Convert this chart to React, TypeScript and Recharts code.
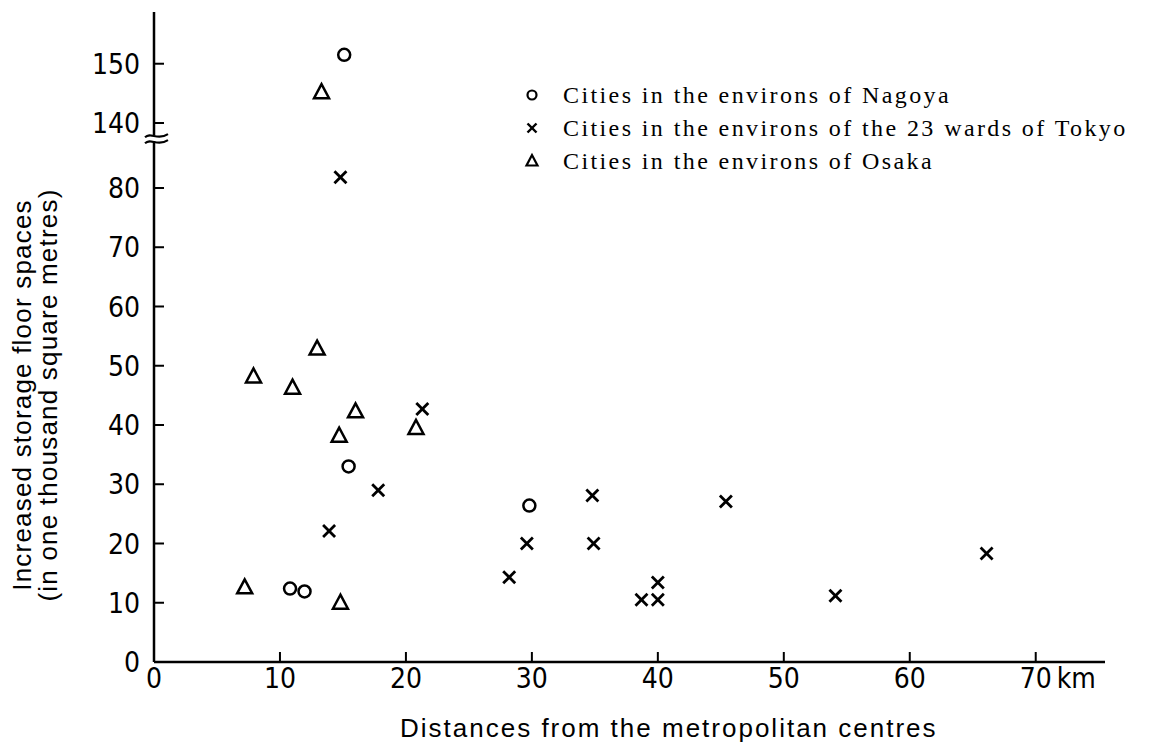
import React from 'react';
import { ScatterChart, Scatter, XAxis, YAxis, Legend, ReferenceDot, Label } from 'recharts';

const SERIES_NAMES = [
  'Cities in the environs of Nagoya',
  'Cities in the environs of the 23 wards of Tokyo',
  'Cities in the environs of Osaka',
];

const NAGOYA_X = [15.1, 15.45, 29.8, 10.8, 11.95];
const NAGOYA_Y = [151.5, 33.0, 26.4, 12.4, 11.9];

const TOKYO_X = [14.8, 21.3, 17.8, 13.9, 28.2, 29.6, 34.8, 34.9, 40.0, 38.7, 40.0, 45.4, 54.1, 66.1];
const TOKYO_Y = [81.8, 42.7, 29.0, 22.1, 14.3, 20.0, 28.1, 20.0, 13.4, 10.5, 10.5, 27.1, 11.2, 18.3];

const OSAKA_X = [13.3, 12.95, 7.9, 11.0, 16.0, 20.8, 14.7, 7.2, 14.8];
const OSAKA_Y = [145.2, 52.9, 48.2, 46.3, 42.3, 39.5, 38.2, 12.6, 10.0];

const X_TICKS = [0, 10, 20, 30, 40, 50, 60, 70];
const Y_TICK_LABELS = [0, 10, 20, 30, 40, 50, 60, 70, 80, 140, 150];

const X_TITLE = 'Distances from the metropolitan centres';
const Y_TITLE_1 = 'Increased storage floor spaces';
const Y_TITLE_2 = '(in one thousand square metres)';

// broken y axis: values above the break are drawn lower by BREAK_SHIFT
const BREAK_SHIFT = 49.03;
const BREAK_AT = 88.4;
const toAxis = (v: number) => (v > 100 ? v - BREAK_SHIFT : v);
const fromAxis = (t: number) => (t > BREAK_AT ? Math.round(t + BREAK_SHIFT) : Math.round(t));

const build = (xs: number[], ys: number[]) => xs.map((x, i) => ({ x, y: toAxis(ys[i]), raw: ys[i] }));
const nagoya = build(NAGOYA_X, NAGOYA_Y);
const tokyo = build(TOKYO_X, TOKYO_Y);
const osaka = build(OSAKA_X, OSAKA_Y);

const TICK_FONT = "'Liberation Sans Narrow', 'Arial Narrow', 'DejaVu Sans Condensed', sans-serif";
const TITLE_FONT = "'Liberation Sans', Arial, sans-serif";
const LEGEND_FONT = "'Liberation Serif', 'Times New Roman', serif";

const CircleShape = (p: any) => (
  <circle cx={p.cx} cy={p.cy} r={6} fill="none" stroke="#000" strokeWidth={2.5} />
);
const CrossShape = (p: any) => (
  <g stroke="#000" strokeWidth={2.8} strokeLinecap="butt">
    <line x1={p.cx - 6} y1={p.cy - 6} x2={p.cx + 6} y2={p.cy + 6} />
    <line x1={p.cx - 6} y1={p.cy + 6} x2={p.cx + 6} y2={p.cy - 6} />
  </g>
);
const TriangleShape = (p: any) => (
  <polygon
    points={`${p.cx},${p.cy - 8} ${p.cx - 7.5},${p.cy + 6} ${p.cx + 7.5},${p.cy + 6}`}
    fill="none"
    stroke="#000"
    strokeWidth={2.5}
    strokeLinejoin="miter"
  />
);

const XTick = (p: any) => {
  const v = p.payload.value;
  const common = { fontFamily: TICK_FONT, fontSize: 28, fill: '#000', dy: '0.36em' };
  if (v === 70) {
    return (
      <g>
        <text x={p.x} y={p.y} textAnchor="middle" {...common}>70</text>
        <text x={p.x + 21} y={p.y} textAnchor="start" {...common}>km</text>
      </g>
    );
  }
  return (
    <text x={p.x} y={p.y} textAnchor="middle" {...common}>{v}</text>
  );
};

const YTick = (p: any) => (
  <text x={p.x} y={p.y} dy="0.36em" textAnchor="end" fontFamily={TICK_FONT} fontSize={28} fill="#000">
    {fromAxis(p.payload.value)}
  </text>
);

const XTitle = (p: any) => {
  const vb = p.viewBox;
  return (
    <text x={vb.x + 246} y={vb.y + 75} textAnchor="start" fontFamily={TITLE_FONT} fontSize={26} letterSpacing={2} fill="#000">
      {X_TITLE}
    </text>
  );
};

const YTitle = (p: any) => {
  const vb = p.viewBox;
  const cy = vb.y + 383;
  return (
    <g fontFamily={TITLE_FONT} fontSize={26} letterSpacing={1.2} fill="#000">
      <text x={31} y={cy} textAnchor="middle" transform={`rotate(-90 31 ${cy})`}>{Y_TITLE_1}</text>
      <text x={57} y={cy} textAnchor="middle" transform={`rotate(-90 57 ${cy})`}>{Y_TITLE_2}</text>
    </g>
  );
};

const BreakMark = (p: any) => {
  const { cx, cy } = p;
  return (
    <g>
      <rect x={cx - 5} y={cy - 3} width={10} height={6} fill="#fff" />
      <path d={`M${cx - 9},${cy - 1} C${cx - 3},${cy - 7} ${cx + 3},${cy + 3} ${cx + 14},${cy - 4}`} fill="none" stroke="#000" strokeWidth={2} />
      <path d={`M${cx - 9},${cy + 5} C${cx - 3},${cy - 1} ${cx + 3},${cy + 9} ${cx + 14},${cy + 2}`} fill="none" stroke="#000" strokeWidth={2} />
    </g>
  );
};

const LegendContent = () => {
  const rowH = 33;
  const markers = [
    (cx: number, cy: number) => <circle cx={cx} cy={cy} r={4.5} fill="none" stroke="#000" strokeWidth={2.2} />,
    (cx: number, cy: number) => (
      <g stroke="#000" strokeWidth={2.4}>
        <line x1={cx - 4.5} y1={cy - 4.5} x2={cx + 4.5} y2={cy + 4.5} />
        <line x1={cx - 4.5} y1={cy + 4.5} x2={cx + 4.5} y2={cy - 4.5} />
      </g>
    ),
    (cx: number, cy: number) => (
      <polygon points={`${cx},${cy - 6} ${cx - 5.5},${cy + 4.5} ${cx + 5.5},${cy + 4.5}`} fill="none" stroke="#000" strokeWidth={2.2} />
    ),
  ];
  return (
    <svg width={640} height={110}>
      {SERIES_NAMES.map((name, i) => {
        const cy = 17 + i * rowH;
        return (
          <g key={name}>
            {markers[i](12, cy)}
            <text x={43} y={cy} dy="0.35em" fontFamily={LEGEND_FONT} fontSize={24} letterSpacing={2.4} fill="#000">
              {name}
            </text>
          </g>
        );
      })}
    </svg>
  );
};

export default function App() {
  return (
    <div style={{ position: 'absolute', left: 0, top: 0, width: 1154, height: 745, background: '#fff' }}>
      <ScatterChart width={1154} height={745} margin={{ top: 12, right: 49, bottom: 0, left: 0 }}>
        <XAxis
          type="number"
          dataKey="x"
          domain={[0, 75.5]}
          ticks={X_TICKS}
          allowDataOverflow
          height={83}
          tickSize={-10}
          tickMargin={26}
          tick={<XTick />}
          axisLine={{ stroke: '#000', strokeWidth: 2.5 }}
          tickLine={{ stroke: '#000', strokeWidth: 2 }}
        >
          <Label content={<XTitle />} />
        </XAxis>
        <YAxis
          type="number"
          dataKey="y"
          domain={[0, 109.7]}
          ticks={Y_TICK_LABELS.map(toAxis)}
          allowDataOverflow
          width={154}
          tickSize={-10}
          tickMargin={24}
          tick={<YTick />}
          axisLine={{ stroke: '#000', strokeWidth: 2.5 }}
          tickLine={{ stroke: '#000', strokeWidth: 2 }}
        >
          <Label content={<YTitle />} />
        </YAxis>
        <Legend
          layout="vertical"
          align="center"
          verticalAlign="middle"
          content={<LegendContent />}
          wrapperStyle={{ position: 'absolute', left: 520, top: 78, width: 640, height: 110 }}
        />
        <Scatter name={SERIES_NAMES[0]} data={nagoya} shape={CircleShape} isAnimationActive={false} />
        <Scatter name={SERIES_NAMES[1]} data={tokyo} shape={CrossShape} isAnimationActive={false} />
        <Scatter name={SERIES_NAMES[2]} data={osaka} shape={TriangleShape} isAnimationActive={false} />
        <ReferenceDot x={0} y={BREAK_AT} r={0} shape={BreakMark} ifOverflow="visible" />
      </ScatterChart>
    </div>
  );
}
